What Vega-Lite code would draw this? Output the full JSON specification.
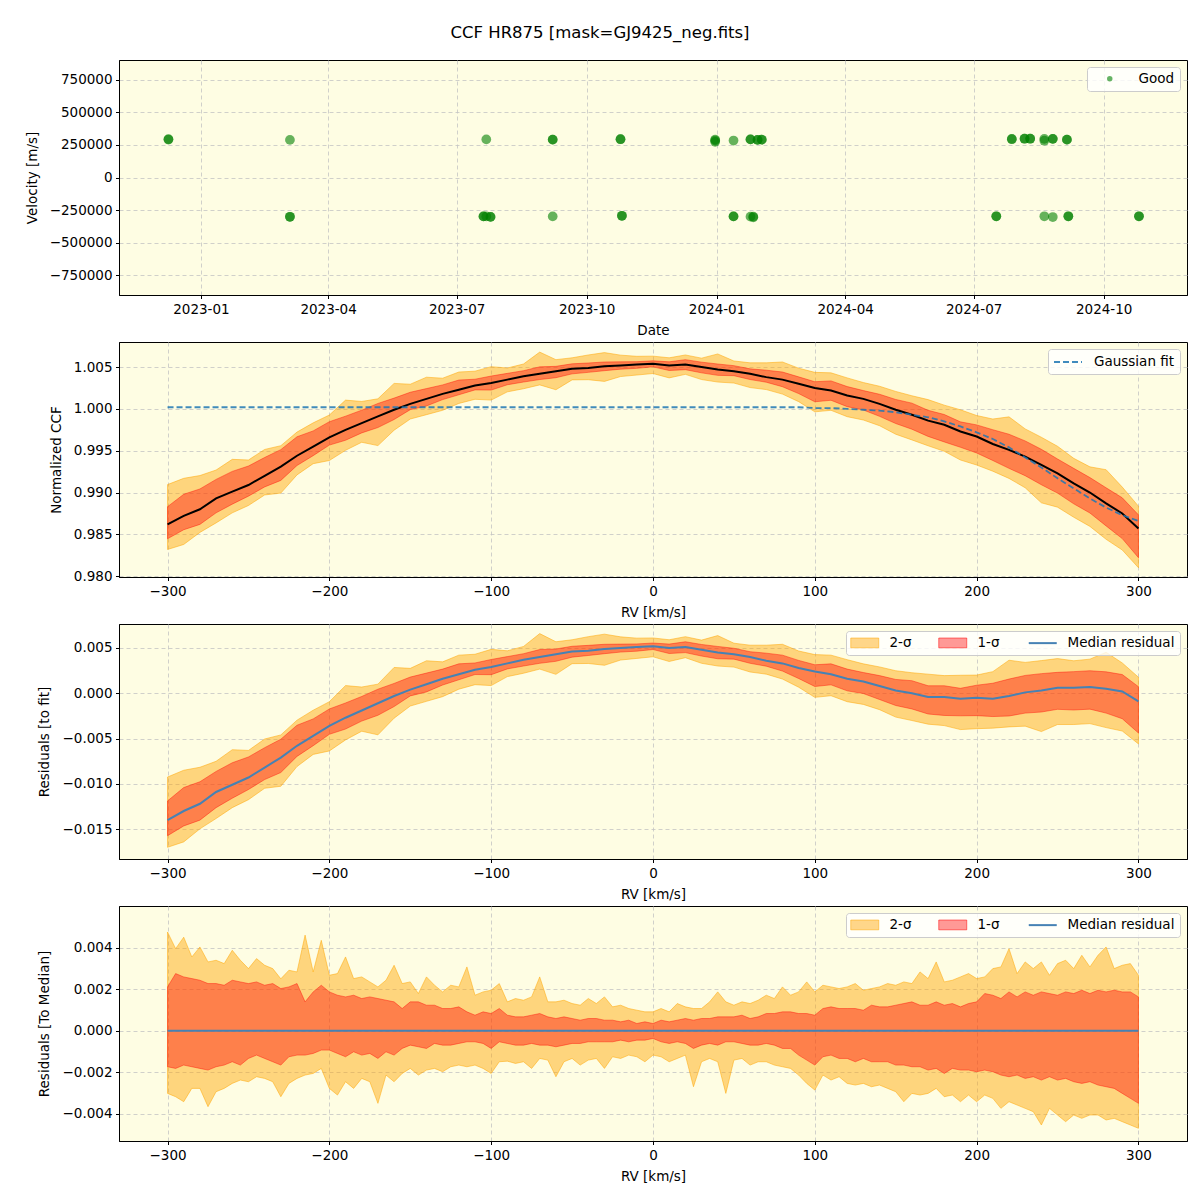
{
"$schema":"https://vega.github.io/schema/vega-lite/v6.json",
"background":"white",
"padding":{"left":24,"top":25,"right":12,"bottom":8},
"title":{"text":"CCF HR875 [mask=GJ9425_neg.fits]","anchor":"middle","fontSize":16.5,"fontWeight":"normal","font":"DejaVu Sans","color":"black","offset":18,"dx":-6},
"config":{
 "font":"DejaVu Sans",
 "view":{"stroke":"black","strokeWidth":1,"fill":"#fefde3"},
 "axis":{"labelFont":"DejaVu Sans","labelFontSize":13.5,"titleFont":"DejaVu Sans","titleFontSize":13.5,"titleFontWeight":"normal","labelColor":"black","titleColor":"black","domainColor":"black","tickColor":"black","tickSize":3.5,"labelPadding":3.5,"gridColor":"#c4c4c4","gridDash":[4,3],"gridWidth":0.8,"grid":true,"labelFlush":false,"labelOverlap":false},
 "legend":{"labelFont":"DejaVu Sans","labelFontSize":13.5,"labelColor":"black","fillColor":"rgba(255,255,255,0.8)","strokeColor":"#cccccc","cornerRadius":3,"padding":5,"offset":7,"orient":"top-right"}
},
"resolve":{"scale":{"color":"independent"},"legend":{"color":"independent"}},
"spacing":47,
"bounds":"flush",
"datasets":{
"pts":[
{"date":"2022-12-09","v":291000},{"date":"2022-12-09","v":293000},
{"date":"2023-03-05","v":288000},{"date":"2023-03-05","v":-301000},{"date":"2023-03-05","v":-301000},
{"date":"2023-07-22","v":292000},{"date":"2023-07-20","v":-298000},{"date":"2023-07-20","v":-298000},{"date":"2023-07-22","v":-298000},{"date":"2023-07-25","v":-302000},{"date":"2023-07-25","v":-302000},
{"date":"2023-09-07","v":290000},{"date":"2023-09-07","v":290000},{"date":"2023-09-07","v":-298000},
{"date":"2023-10-25","v":293000},{"date":"2023-10-25","v":293000},{"date":"2023-10-26","v":-293000},{"date":"2023-10-26","v":-293000},
{"date":"2023-12-31","v":290000},{"date":"2023-12-31","v":273000},{"date":"2023-12-31","v":283000},
{"date":"2024-01-13","v":283000},{"date":"2024-01-13","v":-298000},{"date":"2024-01-13","v":-298000},
{"date":"2024-01-25","v":292000},{"date":"2024-01-25","v":292000},{"date":"2024-01-25","v":-300000},{"date":"2024-01-27","v":-305000},{"date":"2024-01-27","v":-300000},
{"date":"2024-01-30","v":288000},{"date":"2024-01-30","v":288000},{"date":"2024-02-02","v":290000},{"date":"2024-02-02","v":290000},
{"date":"2024-07-17","v":-297000},{"date":"2024-07-17","v":-297000},
{"date":"2024-07-28","v":295000},{"date":"2024-07-28","v":293000},{"date":"2024-08-06","v":297000},{"date":"2024-08-06","v":297000},{"date":"2024-08-10","v":297000},{"date":"2024-08-10","v":297000},
{"date":"2024-08-20","v":296000},{"date":"2024-08-20","v":282000},{"date":"2024-08-20","v":-297000},
{"date":"2024-08-26","v":296000},{"date":"2024-08-26","v":296000},{"date":"2024-08-26","v":-303000},
{"date":"2024-09-05","v":290000},{"date":"2024-09-05","v":290000},{"date":"2024-09-06","v":-297000},{"date":"2024-09-06","v":-297000},
{"date":"2024-10-26","v":-297000},{"date":"2024-10-26","v":-297000}
],
"rv":[
{"rv":-300,"m":0.9862,"f":1.0002,"r":-0.014,"h2":0.99095,"h1":0.98831,"l1":0.98447,"l2":0.98319,"rh2":-0.00925,"rh1":-0.01189,"rl1":-0.01573,"rl2":-0.01701},
{"rv":-290,"m":0.9872,"f":1.0002,"r":-0.013,"h2":0.9917,"h1":0.98979,"l1":0.98555,"l2":0.98379,"rh2":-0.0085,"rh1":-0.01041,"rl1":-0.01465,"rl2":-0.01641},
{"rv":-280,"m":0.988,"f":1.0002,"r":-0.0122,"h2":0.99203,"h1":0.99043,"l1":0.98619,"l2":0.98523,"rh2":-0.00817,"rh1":-0.00977,"rl1":-0.01401,"rl2":-0.01497},
{"rv":-270,"m":0.9893,"f":1.0002,"r":-0.0109,"h2":0.99269,"h1":0.99157,"l1":0.98757,"l2":0.98637,"rh2":-0.00751,"rh1":-0.00863,"rl1":-0.01263,"rl2":-0.01383},
{"rv":-260,"m":0.9901,"f":1.0002,"r":-0.0101,"h2":0.99397,"h1":0.99253,"l1":0.98861,"l2":0.98757,"rh2":-0.00623,"rh1":-0.00767,"rl1":-0.01159,"rl2":-0.01263},
{"rv":-250,"m":0.9909,"f":1.0002,"r":-0.0093,"h2":0.99389,"h1":0.99317,"l1":0.98957,"l2":0.98845,"rh2":-0.00631,"rh1":-0.00703,"rl1":-0.01063,"rl2":-0.01175},
{"rv":-240,"m":0.992,"f":1.0002,"r":-0.0082,"h2":0.99515,"h1":0.99419,"l1":0.99067,"l2":0.98971,"rh2":-0.00505,"rh1":-0.00601,"rl1":-0.00953,"rl2":-0.01049},
{"rv":-230,"m":0.9931,"f":1.0002,"r":-0.0071,"h2":0.9956,"h1":0.99513,"l1":0.99145,"l2":0.98993,"rh2":-0.0046,"rh1":-0.00507,"rl1":-0.00875,"rl2":-0.01027},
{"rv":-220,"m":0.9944,"f":1.0002,"r":-0.0058,"h2":0.99723,"h1":0.99667,"l1":0.99323,"l2":0.99211,"rh2":-0.00297,"rh1":-0.00353,"rl1":-0.00697,"rl2":-0.00809},
{"rv":-210,"m":0.9955,"f":1.0002,"r":-0.0047,"h2":0.99833,"h1":0.99737,"l1":0.99441,"l2":0.99345,"rh2":-0.00187,"rh1":-0.00283,"rl1":-0.00579,"rl2":-0.00675},
{"rv":-200,"m":0.9966,"f":1.0002,"r":-0.0036,"h2":0.99927,"h1":0.99847,"l1":0.99567,"l2":0.99383,"rh2":-0.00093,"rh1":-0.00173,"rl1":-0.00453,"rl2":-0.00637},
{"rv":-190,"m":0.9975,"f":1.0002,"r":-0.0027,"h2":1.00105,"h1":0.99913,"l1":0.99625,"l2":0.99505,"rh2":0.00085,"rh1":-0.00107,"rl1":-0.00395,"rl2":-0.00515},
{"rv":-180,"m":0.9983,"f":1.0002,"r":-0.0019,"h2":1.00089,"h1":0.99985,"l1":0.99713,"l2":0.99601,"rh2":0.00069,"rh1":-0.00035,"rl1":-0.00307,"rl2":-0.00419},
{"rv":-170,"m":0.9991,"f":1.0002,"r":-0.0011,"h2":1.00121,"h1":1.00065,"l1":0.99777,"l2":0.99561,"rh2":0.00101,"rh1":0.00045,"rl1":-0.00243,"rl2":-0.00459},
{"rv":-160,"m":0.9999,"f":1.0002,"r":-0.0003,"h2":1.00305,"h1":1.00129,"l1":0.99873,"l2":0.99745,"rh2":0.00285,"rh1":0.00109,"rl1":-0.00147,"rl2":-0.00275},
{"rv":-150,"m":1.0006,"f":1.0002,"r":0.0004,"h2":1.00295,"h1":1.00199,"l1":0.99991,"l2":0.99879,"rh2":0.00275,"rh1":0.00179,"rl1":-0.00029,"rl2":-0.00141},
{"rv":-140,"m":1.0012,"f":1.0002,"r":0.001,"h2":1.00379,"h1":1.00243,"l1":1.00035,"l2":0.99931,"rh2":0.00359,"rh1":0.00223,"rl1":0.00015,"rl2":-0.00089},
{"rv":-130,"m":1.0018,"f":1.0002,"r":0.0016,"h2":1.00367,"h1":1.00287,"l1":1.00111,"l2":0.99983,"rh2":0.00347,"rh1":0.00267,"rl1":0.00091,"rl2":-0.00037},
{"rv":-120,"m":1.0023,"f":1.0002,"r":0.0021,"h2":1.00441,"h1":1.00345,"l1":1.00169,"l2":1.00065,"rh2":0.00421,"rh1":0.00325,"rl1":0.00149,"rl2":0.00045},
{"rv":-110,"m":1.0028,"f":1.0002,"r":0.0026,"h2":1.00451,"h1":1.00355,"l1":1.00227,"l2":1.00115,"rh2":0.00431,"rh1":0.00335,"rl1":0.00207,"rl2":0.00095},
{"rv":-100,"m":1.0031,"f":1.0002,"r":0.0029,"h2":1.00505,"h1":1.00393,"l1":1.00225,"l2":1.00105,"rh2":0.00485,"rh1":0.00373,"rl1":0.00205,"rl2":0.00085},
{"rv":-90,"m":1.0035,"f":1.0002,"r":0.0033,"h2":1.00489,"h1":1.00425,"l1":1.00289,"l2":1.00204,"rh2":0.00469,"rh1":0.00405,"rl1":0.00269,"rl2":0.00184},
{"rv":-80,"m":1.0039,"f":1.0002,"r":0.0037,"h2":1.00537,"h1":1.00457,"l1":1.00321,"l2":1.00241,"rh2":0.00517,"rh1":0.00437,"rl1":0.00301,"rl2":0.00221},
{"rv":-70,"m":1.0042,"f":1.0002,"r":0.004,"h2":1.00679,"h1":1.00503,"l1":1.00351,"l2":1.00287,"rh2":0.00659,"rh1":0.00483,"rl1":0.00331,"rl2":0.00267},
{"rv":-60,"m":1.0045,"f":1.0002,"r":0.0043,"h2":1.00589,"h1":1.00509,"l1":1.00373,"l2":1.00229,"rh2":0.00569,"rh1":0.00489,"rl1":0.00353,"rl2":0.00209},
{"rv":-50,"m":1.0048,"f":1.0002,"r":0.0046,"h2":1.00611,"h1":1.00539,"l1":1.00419,"l2":1.00347,"rh2":0.00591,"rh1":0.00519,"rl1":0.00399,"rl2":0.00327},
{"rv":-40,"m":1.0049,"f":1.0002,"r":0.0047,"h2":1.00645,"h1":1.00549,"l1":1.00437,"l2":1.00349,"rh2":0.00625,"rh1":0.00529,"rl1":0.00417,"rl2":0.00329},
{"rv":-30,"m":1.0051,"f":1.0002,"r":0.0049,"h2":1.00673,"h1":1.00561,"l1":1.00457,"l2":1.00329,"rh2":0.00653,"rh1":0.00541,"rl1":0.00437,"rl2":0.00309},
{"rv":-20,"m":1.0052,"f":1.0002,"r":0.005,"h2":1.00643,"h1":1.00563,"l1":1.00475,"l2":1.00387,"rh2":0.00623,"rh1":0.00543,"rl1":0.00455,"rl2":0.00367},
{"rv":-10,"m":1.0053,"f":1.0002,"r":0.0051,"h2":1.00629,"h1":1.00565,"l1":1.00485,"l2":1.00405,"rh2":0.00609,"rh1":0.00545,"rl1":0.00465,"rl2":0.00385},
{"rv":0,"m":1.0054,"f":1.0002,"r":0.0052,"h2":1.00631,"h1":1.00575,"l1":1.00503,"l2":1.00423,"rh2":0.00611,"rh1":0.00555,"rl1":0.00483,"rl2":0.00403},
{"rv":10,"m":1.0052,"f":1.0002,"r":0.005,"h2":1.00611,"h1":1.00563,"l1":1.00459,"l2":1.00371,"rh2":0.00591,"rh1":0.00543,"rl1":0.00439,"rl2":0.00351},
{"rv":20,"m":1.0053,"f":1.0002,"r":0.0051,"h2":1.00645,"h1":1.00589,"l1":1.00469,"l2":1.00413,"rh2":0.00625,"rh1":0.00569,"rl1":0.00449,"rl2":0.00393},
{"rv":30,"m":1.005,"f":1.0002,"r":0.0048,"h2":1.00607,"h1":1.00559,"l1":1.00431,"l2":1.00351,"rh2":0.00587,"rh1":0.00539,"rl1":0.00411,"rl2":0.00331},
{"rv":40,"m":1.0047,"f":1.0002,"r":0.0045,"h2":1.00657,"h1":1.00537,"l1":1.00401,"l2":1.00321,"rh2":0.00637,"rh1":0.00517,"rl1":0.00381,"rl2":0.00301},
{"rv":50,"m":1.0045,"f":1.0002,"r":0.0043,"h2":1.00573,"h1":1.00517,"l1":1.00397,"l2":1.00309,"rh2":0.00553,"rh1":0.00497,"rl1":0.00377,"rl2":0.00289},
{"rv":60,"m":1.0042,"f":1.0002,"r":0.004,"h2":1.00551,"h1":1.00479,"l1":1.00351,"l2":1.00255,"rh2":0.00531,"rh1":0.00459,"rl1":0.00331,"rl2":0.00235},
{"rv":70,"m":1.0038,"f":1.0002,"r":0.0036,"h2":1.00551,"h1":1.00463,"l1":1.00319,"l2":1.00231,"rh2":0.00531,"rh1":0.00443,"rl1":0.00299,"rl2":0.00211},
{"rv":80,"m":1.0035,"f":1.0002,"r":0.0033,"h2":1.00561,"h1":1.00441,"l1":1.00265,"l2":1.00177,"rh2":0.00541,"rh1":0.00421,"rl1":0.00245,"rl2":0.00157},
{"rv":90,"m":1.003,"f":1.0002,"r":0.0028,"h2":1.00487,"h1":1.00383,"l1":1.00183,"l2":1.00087,"rh2":0.00467,"rh1":0.00363,"rl1":0.00163,"rl2":0.00067},
{"rv":100,"m":1.0025,"f":1.0001,"r":0.0024,"h2":1.00437,"h1":1.00325,"l1":1.00085,"l2":0.99965,"rh2":0.00427,"rh1":0.00315,"rl1":0.00075,"rl2":-0.00045},
{"rv":110,"m":1.0022,"f":1.0001,"r":0.0021,"h2":1.00431,"h1":1.00335,"l1":1.00103,"l2":0.99983,"rh2":0.00421,"rh1":0.00325,"rl1":0.00093,"rl2":-0.00027},
{"rv":120,"m":1.0016,"f":1.0,"r":0.0016,"h2":1.00371,"h1":1.00267,"l1":1.00027,"l2":0.99907,"rh2":0.00371,"rh1":0.00267,"rl1":0.00027,"rl2":-0.00093},
{"rv":130,"m":1.0012,"f":0.9999,"r":0.0013,"h2":1.00315,"h1":1.00219,"l1":0.99987,"l2":0.99867,"rh2":0.00325,"rh1":0.00229,"rl1":-0.00003,"rl2":-0.00123},
{"rv":140,"m":1.0006,"f":0.9998,"r":0.0008,"h2":1.00271,"h1":1.00175,"l1":0.99911,"l2":0.99799,"rh2":0.00291,"rh1":0.00195,"rl1":-0.00069,"rl2":-0.00181},
{"rv":150,"m":0.9999,"f":0.9996,"r":0.0003,"h2":1.00209,"h1":1.00113,"l1":0.99825,"l2":0.99697,"rh2":0.00249,"rh1":0.00153,"rl1":-0.00135,"rl2":-0.00263},
{"rv":160,"m":0.9993,"f":0.9993,"r":0.0,"h2":1.00157,"h1":1.00069,"l1":0.99757,"l2":0.99629,"rh2":0.00227,"rh1":0.00139,"rl1":-0.00173,"rl2":-0.00301},
{"rv":170,"m":0.9986,"f":0.999,"r":-0.0004,"h2":1.00111,"h1":0.99983,"l1":0.99671,"l2":0.99559,"rh2":0.00211,"rh1":0.00083,"rl1":-0.00229,"rl2":-0.00341},
{"rv":180,"m":0.9981,"f":0.9985,"r":-0.0004,"h2":1.00045,"h1":0.99933,"l1":0.99605,"l2":0.99493,"rh2":0.00195,"rh1":0.00083,"rl1":-0.00245,"rl2":-0.00357},
{"rv":190,"m":0.9973,"f":0.9979,"r":-0.0006,"h2":0.99989,"h1":0.99845,"l1":0.99541,"l2":0.99389,"rh2":0.00199,"rh1":0.00055,"rl1":-0.00249,"rl2":-0.00401},
{"rv":200,"m":0.9967,"f":0.9972,"r":-0.0005,"h2":0.99921,"h1":0.99809,"l1":0.99473,"l2":0.99329,"rh2":0.00201,"rh1":0.00089,"rl1":-0.00247,"rl2":-0.00391},
{"rv":210,"m":0.9958,"f":0.9964,"r":-0.0006,"h2":0.99879,"h1":0.99751,"l1":0.99383,"l2":0.99255,"rh2":0.00239,"rh1":0.00111,"rl1":-0.00257,"rl2":-0.00385},
{"rv":220,"m":0.9951,"f":0.9954,"r":-0.0003,"h2":0.99905,"h1":0.99697,"l1":0.99289,"l2":0.99169,"rh2":0.00365,"rh1":0.00157,"rl1":-0.00251,"rl2":-0.00371},
{"rv":230,"m":0.9943,"f":0.9942,"r":0.0001,"h2":0.99761,"h1":0.99617,"l1":0.99201,"l2":0.99057,"rh2":0.00341,"rh1":0.00197,"rl1":-0.00219,"rl2":-0.00363},
{"rv":240,"m":0.9933,"f":0.993,"r":0.0003,"h2":0.99661,"h1":0.99517,"l1":0.99093,"l2":0.98877,"rh2":0.00361,"rh1":0.00217,"rl1":-0.00207,"rl2":-0.00423},
{"rv":250,"m":0.9923,"f":0.9917,"r":0.0006,"h2":0.99553,"h1":0.99401,"l1":0.98993,"l2":0.98825,"rh2":0.00383,"rh1":0.00231,"rl1":-0.00177,"rl2":-0.00345},
{"rv":260,"m":0.9911,"f":0.9905,"r":0.0006,"h2":0.99409,"h1":0.99289,"l1":0.98865,"l2":0.98705,"rh2":0.00359,"rh1":0.00239,"rl1":-0.00185,"rl2":-0.00345},
{"rv":270,"m":0.99,"f":0.9893,"r":0.0007,"h2":0.99307,"h1":0.99179,"l1":0.98755,"l2":0.98595,"rh2":0.00377,"rh1":0.00249,"rl1":-0.00175,"rl2":-0.00335},
{"rv":280,"m":0.9887,"f":0.9882,"r":0.0005,"h2":0.99273,"h1":0.99057,"l1":0.98601,"l2":0.98441,"rh2":0.00453,"rh1":0.00237,"rl1":-0.00219,"rl2":-0.00379},
{"rv":290,"m":0.9875,"f":0.9873,"r":0.0002,"h2":0.99065,"h1":0.98937,"l1":0.98449,"l2":0.98313,"rh2":0.00335,"rh1":0.00207,"rl1":-0.00281,"rl2":-0.00417},
{"rv":300,"m":0.9857,"f":0.9866,"r":-0.0009,"h2":0.98837,"h1":0.98733,"l1":0.98221,"l2":0.98101,"rh2":0.00177,"rh1":0.00073,"rl1":-0.00439,"rl2":-0.00559}
],
"p4":[
{"rv":-300,"h2":0.00475,"h1":0.00211,"l1":-0.00173,"l2":-0.00301},
{"rv":-295,"h2":0.00395,"h1":0.00275,"l1":-0.00181,"l2":-0.00317},
{"rv":-290,"h2":0.0045,"h1":0.00259,"l1":-0.00165,"l2":-0.00341},
{"rv":-285,"h2":0.00355,"h1":0.00251,"l1":-0.00173,"l2":-0.00277},
{"rv":-280,"h2":0.00403,"h1":0.00243,"l1":-0.00181,"l2":-0.00277},
{"rv":-275,"h2":0.00331,"h1":0.00227,"l1":-0.00189,"l2":-0.00365},
{"rv":-270,"h2":0.00339,"h1":0.00227,"l1":-0.00173,"l2":-0.00293},
{"rv":-265,"h2":0.00323,"h1":0.00219,"l1":-0.00165,"l2":-0.00277},
{"rv":-260,"h2":0.00387,"h1":0.00243,"l1":-0.00149,"l2":-0.00253},
{"rv":-255,"h2":0.00339,"h1":0.00235,"l1":-0.00165,"l2":-0.00237},
{"rv":-250,"h2":0.00299,"h1":0.00227,"l1":-0.00133,"l2":-0.00245},
{"rv":-245,"h2":0.00347,"h1":0.00235,"l1":-0.00117,"l2":-0.00221},
{"rv":-240,"h2":0.00315,"h1":0.00219,"l1":-0.00133,"l2":-0.00229},
{"rv":-235,"h2":0.00299,"h1":0.00227,"l1":-0.00149,"l2":-0.00245},
{"rv":-230,"h2":0.0025,"h1":0.00203,"l1":-0.00165,"l2":-0.00317},
{"rv":-225,"h2":0.00291,"h1":0.00211,"l1":-0.00125,"l2":-0.00253},
{"rv":-220,"h2":0.00283,"h1":0.00227,"l1":-0.00117,"l2":-0.00229},
{"rv":-215,"h2":0.0046,"h1":0.00139,"l1":-0.00117,"l2":-0.00213},
{"rv":-210,"h2":0.00283,"h1":0.00187,"l1":-0.00109,"l2":-0.00205},
{"rv":-205,"h2":0.00435,"h1":0.00219,"l1":-0.00093,"l2":-0.00181},
{"rv":-200,"h2":0.00267,"h1":0.00187,"l1":-0.00093,"l2":-0.00277},
{"rv":-195,"h2":0.00275,"h1":0.00171,"l1":-0.00109,"l2":-0.00309},
{"rv":-190,"h2":0.00355,"h1":0.00163,"l1":-0.00125,"l2":-0.00245},
{"rv":-185,"h2":0.00251,"h1":0.00171,"l1":-0.00101,"l2":-0.00277},
{"rv":-180,"h2":0.00259,"h1":0.00155,"l1":-0.00117,"l2":-0.00229},
{"rv":-175,"h2":0.00235,"h1":0.00163,"l1":-0.00109,"l2":-0.00245},
{"rv":-170,"h2":0.00211,"h1":0.00155,"l1":-0.00133,"l2":-0.00349},
{"rv":-165,"h2":0.00243,"h1":0.00147,"l1":-0.00101,"l2":-0.00213},
{"rv":-160,"h2":0.00315,"h1":0.00139,"l1":-0.00117,"l2":-0.00245},
{"rv":-155,"h2":0.00227,"h1":0.00107,"l1":-0.00085,"l2":-0.00205},
{"rv":-150,"h2":0.00235,"h1":0.00139,"l1":-0.00069,"l2":-0.00181},
{"rv":-145,"h2":0.00179,"h1":0.00139,"l1":-0.00077,"l2":-0.00213},
{"rv":-140,"h2":0.00259,"h1":0.00123,"l1":-0.00085,"l2":-0.00189},
{"rv":-135,"h2":0.00219,"h1":0.00123,"l1":-0.00061,"l2":-0.00181},
{"rv":-130,"h2":0.00187,"h1":0.00107,"l1":-0.00069,"l2":-0.00197},
{"rv":-125,"h2":0.00219,"h1":0.00107,"l1":-0.00069,"l2":-0.00173},
{"rv":-120,"h2":0.00211,"h1":0.00115,"l1":-0.00061,"l2":-0.00165},
{"rv":-115,"h2":0.00307,"h1":0.00091,"l1":-0.00053,"l2":-0.00173},
{"rv":-110,"h2":0.00171,"h1":0.00075,"l1":-0.00053,"l2":-0.00165},
{"rv":-105,"h2":0.00187,"h1":0.00091,"l1":-0.00061,"l2":-0.00181},
{"rv":-100,"h2":0.00195,"h1":0.00083,"l1":-0.00085,"l2":-0.00205},
{"rv":-95,"h2":0.00227,"h1":0.00107,"l1":-0.00053,"l2":-0.00149},
{"rv":-90,"h2":0.00139,"h1":0.00075,"l1":-0.00061,"l2":-0.00146},
{"rv":-85,"h2":0.00155,"h1":0.00067,"l1":-0.00069,"l2":-0.00157},
{"rv":-80,"h2":0.00147,"h1":0.00067,"l1":-0.00069,"l2":-0.00149},
{"rv":-75,"h2":0.00163,"h1":0.00075,"l1":-0.00061,"l2":-0.00181},
{"rv":-70,"h2":0.00259,"h1":0.00083,"l1":-0.00069,"l2":-0.00133},
{"rv":-65,"h2":0.00139,"h1":0.00067,"l1":-0.00069,"l2":-0.00141},
{"rv":-60,"h2":0.00139,"h1":0.00059,"l1":-0.00077,"l2":-0.00221},
{"rv":-55,"h2":0.00147,"h1":0.00067,"l1":-0.00069,"l2":-0.00149},
{"rv":-50,"h2":0.00131,"h1":0.00059,"l1":-0.00061,"l2":-0.00133},
{"rv":-45,"h2":0.00123,"h1":0.00051,"l1":-0.00061,"l2":-0.00165},
{"rv":-40,"h2":0.00155,"h1":0.00059,"l1":-0.00053,"l2":-0.00141},
{"rv":-35,"h2":0.00131,"h1":0.00059,"l1":-0.00053,"l2":-0.00133},
{"rv":-30,"h2":0.00163,"h1":0.00051,"l1":-0.00053,"l2":-0.00181},
{"rv":-25,"h2":0.00115,"h1":0.00051,"l1":-0.00053,"l2":-0.00125},
{"rv":-20,"h2":0.00123,"h1":0.00043,"l1":-0.00045,"l2":-0.00133},
{"rv":-15,"h2":0.00107,"h1":0.00051,"l1":-0.00053,"l2":-0.00117},
{"rv":-10,"h2":0.00099,"h1":0.00035,"l1":-0.00045,"l2":-0.00125},
{"rv":-5,"h2":0.00091,"h1":0.00043,"l1":-0.00045,"l2":-0.00149},
{"rv":0,"h2":0.00091,"h1":0.00035,"l1":-0.00037,"l2":-0.00117},
{"rv":5,"h2":0.00107,"h1":0.00051,"l1":-0.00053,"l2":-0.00125},
{"rv":10,"h2":0.00091,"h1":0.00043,"l1":-0.00061,"l2":-0.00149},
{"rv":15,"h2":0.00131,"h1":0.00051,"l1":-0.00053,"l2":-0.00133},
{"rv":20,"h2":0.00115,"h1":0.00059,"l1":-0.00061,"l2":-0.00117},
{"rv":25,"h2":0.00107,"h1":0.00051,"l1":-0.00085,"l2":-0.00269},
{"rv":30,"h2":0.00107,"h1":0.00059,"l1":-0.00069,"l2":-0.00149},
{"rv":35,"h2":0.00139,"h1":0.00059,"l1":-0.00061,"l2":-0.00133},
{"rv":40,"h2":0.00187,"h1":0.00067,"l1":-0.00069,"l2":-0.00149},
{"rv":45,"h2":0.00139,"h1":0.00067,"l1":-0.00053,"l2":-0.00301},
{"rv":50,"h2":0.00123,"h1":0.00067,"l1":-0.00053,"l2":-0.00141},
{"rv":55,"h2":0.00139,"h1":0.00075,"l1":-0.00061,"l2":-0.00133},
{"rv":60,"h2":0.00131,"h1":0.00059,"l1":-0.00069,"l2":-0.00165},
{"rv":65,"h2":0.00147,"h1":0.00067,"l1":-0.00069,"l2":-0.00149},
{"rv":70,"h2":0.00171,"h1":0.00083,"l1":-0.00061,"l2":-0.00149},
{"rv":75,"h2":0.00155,"h1":0.00083,"l1":-0.00069,"l2":-0.00165},
{"rv":80,"h2":0.00211,"h1":0.00091,"l1":-0.00085,"l2":-0.00173},
{"rv":85,"h2":0.00171,"h1":0.00091,"l1":-0.00085,"l2":-0.00181},
{"rv":90,"h2":0.00187,"h1":0.00083,"l1":-0.00117,"l2":-0.00213},
{"rv":95,"h2":0.00235,"h1":0.00083,"l1":-0.00141,"l2":-0.00253},
{"rv":100,"h2":0.00187,"h1":0.00075,"l1":-0.00165,"l2":-0.00285},
{"rv":105,"h2":0.00219,"h1":0.00107,"l1":-0.00125,"l2":-0.00213},
{"rv":110,"h2":0.00211,"h1":0.00115,"l1":-0.00117,"l2":-0.00237},
{"rv":115,"h2":0.00203,"h1":0.00107,"l1":-0.00133,"l2":-0.00221},
{"rv":120,"h2":0.00211,"h1":0.00107,"l1":-0.00133,"l2":-0.00253},
{"rv":125,"h2":0.00227,"h1":0.00107,"l1":-0.00149,"l2":-0.00261},
{"rv":130,"h2":0.00195,"h1":0.00099,"l1":-0.00133,"l2":-0.00253},
{"rv":135,"h2":0.00203,"h1":0.00123,"l1":-0.00149,"l2":-0.00269},
{"rv":140,"h2":0.00211,"h1":0.00115,"l1":-0.00149,"l2":-0.00261},
{"rv":145,"h2":0.00227,"h1":0.00115,"l1":-0.00149,"l2":-0.00277},
{"rv":150,"h2":0.00219,"h1":0.00123,"l1":-0.00165,"l2":-0.00293},
{"rv":155,"h2":0.00235,"h1":0.00131,"l1":-0.00165,"l2":-0.00341},
{"rv":160,"h2":0.00227,"h1":0.00139,"l1":-0.00173,"l2":-0.00301},
{"rv":165,"h2":0.00283,"h1":0.00123,"l1":-0.00173,"l2":-0.00309},
{"rv":170,"h2":0.00251,"h1":0.00123,"l1":-0.00189,"l2":-0.00301},
{"rv":175,"h2":0.00331,"h1":0.00139,"l1":-0.00181,"l2":-0.00277},
{"rv":180,"h2":0.00235,"h1":0.00123,"l1":-0.00205,"l2":-0.00317},
{"rv":185,"h2":0.00243,"h1":0.00131,"l1":-0.00181,"l2":-0.00309},
{"rv":190,"h2":0.00259,"h1":0.00115,"l1":-0.00189,"l2":-0.00341},
{"rv":195,"h2":0.00275,"h1":0.00131,"l1":-0.00189,"l2":-0.00309},
{"rv":200,"h2":0.00251,"h1":0.00139,"l1":-0.00197,"l2":-0.00341},
{"rv":205,"h2":0.00259,"h1":0.00179,"l1":-0.00189,"l2":-0.00309},
{"rv":210,"h2":0.00299,"h1":0.00171,"l1":-0.00197,"l2":-0.00325},
{"rv":215,"h2":0.00307,"h1":0.00155,"l1":-0.00213,"l2":-0.00373},
{"rv":220,"h2":0.00395,"h1":0.00187,"l1":-0.00221,"l2":-0.00341},
{"rv":225,"h2":0.00275,"h1":0.00163,"l1":-0.00213,"l2":-0.00357},
{"rv":230,"h2":0.00331,"h1":0.00187,"l1":-0.00229,"l2":-0.00373},
{"rv":235,"h2":0.00299,"h1":0.00171,"l1":-0.00221,"l2":-0.00389},
{"rv":240,"h2":0.00331,"h1":0.00187,"l1":-0.00237,"l2":-0.00453},
{"rv":245,"h2":0.00267,"h1":0.00179,"l1":-0.00221,"l2":-0.00373},
{"rv":250,"h2":0.00323,"h1":0.00171,"l1":-0.00237,"l2":-0.00405},
{"rv":255,"h2":0.00339,"h1":0.00187,"l1":-0.00229,"l2":-0.00437},
{"rv":260,"h2":0.00299,"h1":0.00179,"l1":-0.00245,"l2":-0.00405},
{"rv":265,"h2":0.00363,"h1":0.00195,"l1":-0.00253,"l2":-0.00421},
{"rv":270,"h2":0.00307,"h1":0.00179,"l1":-0.00245,"l2":-0.00405},
{"rv":275,"h2":0.00363,"h1":0.00195,"l1":-0.00261,"l2":-0.00405},
{"rv":280,"h2":0.00403,"h1":0.00187,"l1":-0.00269,"l2":-0.00429},
{"rv":285,"h2":0.00299,"h1":0.00195,"l1":-0.00277,"l2":-0.00421},
{"rv":290,"h2":0.00315,"h1":0.00187,"l1":-0.00301,"l2":-0.00437},
{"rv":295,"h2":0.00323,"h1":0.00187,"l1":-0.00325,"l2":-0.00453},
{"rv":300,"h2":0.00267,"h1":0.00163,"l1":-0.00349,"l2":-0.00469}
]
},
"vconcat":[
{
 "width":1068,"height":235,
 "data":{"name":"pts"},
 "mark":{"type":"circle","size":95,"opacity":0.6},
 "encoding":{
  "x":{"field":"date","type":"temporal","scale":{"type":"utc","domain":[{"year":2022,"month":11,"date":4,"utc":true},{"year":2024,"month":11,"date":29,"utc":true}]},
       "axis":{"title":"Date","format":"%Y-%m","titleY":35,"titleBaseline":"middle","values":[{"year":2023,"month":1,"date":1,"utc":true},{"year":2023,"month":4,"date":1,"utc":true},{"year":2023,"month":7,"date":1,"utc":true},{"year":2023,"month":10,"date":1,"utc":true},{"year":2024,"month":1,"date":1,"utc":true},{"year":2024,"month":4,"date":1,"utc":true},{"year":2024,"month":7,"date":1,"utc":true},{"year":2024,"month":10,"date":1,"utc":true}]}},
  "y":{"field":"v","type":"quantitative","scale":{"domain":[-900000,900000],"nice":false},
       "axis":{"title":"Velocity [m/s]","format":"d","titleX":-87,"titleBaseline":"middle","values":[-750000,-500000,-250000,0,250000,500000,750000]}},
  "color":{"datum":"Good","scale":{"domain":["Good"],"range":["green"]},
       "legend":{"title":null,"symbolType":"circle","symbolSize":30,"symbolOpacity":0.6,"symbolOffset":11,"labelOffset":22}}
 }
},
{
 "width":1068,"height":235,
 "data":{"name":"rv"},
 "encoding":{"x":{"field":"rv","type":"quantitative","scale":{"domain":[-330,330],"nice":false},
   "axis":{"title":"RV [km/s]","format":"d","titleY":35,"titleBaseline":"middle","values":[-300,-200,-100,0,100,200,300]}}},
 "layer":[
  {"mark":{"type":"area","fill":"#ffa500","fillOpacity":0.45,"stroke":"#ffa500","strokeOpacity":0.5,"strokeWidth":1},
   "encoding":{"y":{"field":"h2","type":"quantitative","scale":{"domain":[0.9799,1.008],"nice":false,"zero":false},
      "axis":{"title":"Normalized CCF","format":".3f","titleX":-63,"titleBaseline":"middle","values":[0.98,0.985,0.99,0.995,1.0,1.005]}},"y2":{"field":"l2"}}},
  {"mark":{"type":"area","fill":"#ff0000","fillOpacity":0.4,"stroke":"#ff0000","strokeOpacity":0.4,"strokeWidth":1},
   "encoding":{"y":{"field":"h1","type":"quantitative"},"y2":{"field":"l1"}}},
  {"mark":{"type":"line","color":"black","strokeWidth":2},
   "encoding":{"y":{"field":"m","type":"quantitative"}}},
  {"mark":{"type":"line","strokeWidth":1.8,"strokeDash":[6,3],"opacity":0.85},
   "encoding":{"y":{"field":"f","type":"quantitative"},
     "color":{"datum":"Gaussian fit","scale":{"domain":["Gaussian fit"],"range":["#1f77b4"]},
       "legend":{"title":null,"symbolType":"M-2,0H2","symbolSize":196,"symbolDash":[6,3],"symbolStrokeWidth":1.8,"symbolOffset":7,"labelOffset":18}}}}
 ]
},
{
 "width":1068,"height":235,
 "data":{"name":"rv"},
 "encoding":{"x":{"field":"rv","type":"quantitative","scale":{"domain":[-330,330],"nice":false},
   "axis":{"title":"RV [km/s]","format":"d","titleY":35,"titleBaseline":"middle","values":[-300,-200,-100,0,100,200,300]}}},
 "layer":[
  {"mark":{"type":"area","fillOpacity":0.45,"stroke":"#ffa500","strokeOpacity":0.5,"strokeWidth":1},
   "encoding":{"y":{"field":"rh2","type":"quantitative","scale":{"domain":[-0.0183,0.00765],"nice":false,"zero":false},
      "axis":{"title":"Residuals [to fit]","format":".3f","titleX":-75,"titleBaseline":"middle","values":[-0.015,-0.01,-0.005,0,0.005]}},"y2":{"field":"rl2"},
      "color":{"datum":"2-σ","type":"nominal","scale":{"domain":["2-σ","1-σ","Median residual"],"range":["#ffa500","#ff0000","#4682b4"]},
       "legend":{"title":null,"direction":"horizontal","symbolType":"M-2,-0.7H2V0.7H-2Z","symbolSize":196,"symbolOffset":7,"labelOffset":18,"columnPadding":24,
        "encode":{"symbols":{"update":{
          "shape":{"signal":"datum.label === 'Median residual' ? 'M-2,0H2' : 'M-2,-0.7H2V0.7H-2Z'"},
          "fill":{"signal":"datum.label === '2-σ' ? '#ffa500' : (datum.label === '1-σ' ? '#ff0000' : 'transparent')"},
          "fillOpacity":{"signal":"datum.label === '2-σ' ? 0.45 : 0.4"},
          "opacity":{"value":1},
          "stroke":{"signal":"datum.label === 'Median residual' ? '#4682b4' : (datum.label === '2-σ' ? '#ffa500' : '#ff0000')"},
          "strokeOpacity":{"signal":"datum.label === 'Median residual' ? 1 : 0.5"},
          "strokeWidth":{"signal":"datum.label === 'Median residual' ? 2 : 1"}}}}}}}},
  {"mark":{"type":"area","fillOpacity":0.4,"stroke":"#ff0000","strokeOpacity":0.4,"strokeWidth":1},
   "encoding":{"y":{"field":"rh1","type":"quantitative"},"y2":{"field":"rl1"},"color":{"datum":"1-σ","type":"nominal",
       "legend":{"title":null,"direction":"horizontal","symbolType":"M-2,-0.7H2V0.7H-2Z","symbolSize":196,"symbolOffset":7,"labelOffset":18,"columnPadding":24,
        "encode":{"symbols":{"update":{
          "shape":{"signal":"datum.label === 'Median residual' ? 'M-2,0H2' : 'M-2,-0.7H2V0.7H-2Z'"},
          "fill":{"signal":"datum.label === '2-σ' ? '#ffa500' : (datum.label === '1-σ' ? '#ff0000' : 'transparent')"},
          "fillOpacity":{"signal":"datum.label === '2-σ' ? 0.45 : 0.4"},
          "opacity":{"value":1},
          "stroke":{"signal":"datum.label === 'Median residual' ? '#4682b4' : (datum.label === '2-σ' ? '#ffa500' : '#ff0000')"},
          "strokeOpacity":{"signal":"datum.label === 'Median residual' ? 1 : 0.5"},
          "strokeWidth":{"signal":"datum.label === 'Median residual' ? 2 : 1"}}}}}}}},
  {"mark":{"type":"line","strokeWidth":2},
   "encoding":{"y":{"field":"r","type":"quantitative"},"color":{"datum":"Median residual","type":"nominal",
       "legend":{"title":null,"direction":"horizontal","symbolType":"M-2,-0.7H2V0.7H-2Z","symbolSize":196,"symbolOffset":7,"labelOffset":18,"columnPadding":24,
        "encode":{"symbols":{"update":{
          "shape":{"signal":"datum.label === 'Median residual' ? 'M-2,0H2' : 'M-2,-0.7H2V0.7H-2Z'"},
          "fill":{"signal":"datum.label === '2-σ' ? '#ffa500' : (datum.label === '1-σ' ? '#ff0000' : 'transparent')"},
          "fillOpacity":{"signal":"datum.label === '2-σ' ? 0.45 : 0.4"},
          "opacity":{"value":1},
          "stroke":{"signal":"datum.label === 'Median residual' ? '#4682b4' : (datum.label === '2-σ' ? '#ffa500' : '#ff0000')"},
          "strokeOpacity":{"signal":"datum.label === 'Median residual' ? 1 : 0.5"},
          "strokeWidth":{"signal":"datum.label === 'Median residual' ? 2 : 1"}}}}}}}}
 ]
},
{
 "width":1068,"height":235,
 "data":{"name":"p4"},
 "encoding":{"x":{"field":"rv","type":"quantitative","scale":{"domain":[-330,330],"nice":false},
   "axis":{"title":"RV [km/s]","format":"d","titleY":35,"titleBaseline":"middle","values":[-300,-200,-100,0,100,200,300]}}},
 "layer":[
  {"mark":{"type":"area","fillOpacity":0.45,"stroke":"#ffa500","strokeOpacity":0.5,"strokeWidth":1},
   "encoding":{"y":{"field":"h2","type":"quantitative","scale":{"domain":[-0.0053,0.006],"nice":false,"zero":false},
      "axis":{"title":"Residuals [To Median]","format":".3f","titleX":-75,"titleBaseline":"middle","values":[-0.004,-0.002,0,0.002,0.004]}},"y2":{"field":"l2"},
      "color":{"datum":"2-σ","type":"nominal","scale":{"domain":["2-σ","1-σ","Median residual"],"range":["#ffa500","#ff0000","#4682b4"]},
       "legend":{"title":null,"direction":"horizontal","symbolType":"M-2,-0.7H2V0.7H-2Z","symbolSize":196,"symbolOffset":7,"labelOffset":18,"columnPadding":24,
        "encode":{"symbols":{"update":{
          "shape":{"signal":"datum.label === 'Median residual' ? 'M-2,0H2' : 'M-2,-0.7H2V0.7H-2Z'"},
          "fill":{"signal":"datum.label === '2-σ' ? '#ffa500' : (datum.label === '1-σ' ? '#ff0000' : 'transparent')"},
          "fillOpacity":{"signal":"datum.label === '2-σ' ? 0.45 : 0.4"},
          "opacity":{"value":1},
          "stroke":{"signal":"datum.label === 'Median residual' ? '#4682b4' : (datum.label === '2-σ' ? '#ffa500' : '#ff0000')"},
          "strokeOpacity":{"signal":"datum.label === 'Median residual' ? 1 : 0.5"},
          "strokeWidth":{"signal":"datum.label === 'Median residual' ? 2 : 1"}}}}}}}},
  {"mark":{"type":"area","fillOpacity":0.4,"stroke":"#ff0000","strokeOpacity":0.4,"strokeWidth":1},
   "encoding":{"y":{"field":"h1","type":"quantitative"},"y2":{"field":"l1"},"color":{"datum":"1-σ","type":"nominal",
       "legend":{"title":null,"direction":"horizontal","symbolType":"M-2,-0.7H2V0.7H-2Z","symbolSize":196,"symbolOffset":7,"labelOffset":18,"columnPadding":24,
        "encode":{"symbols":{"update":{
          "shape":{"signal":"datum.label === 'Median residual' ? 'M-2,0H2' : 'M-2,-0.7H2V0.7H-2Z'"},
          "fill":{"signal":"datum.label === '2-σ' ? '#ffa500' : (datum.label === '1-σ' ? '#ff0000' : 'transparent')"},
          "fillOpacity":{"signal":"datum.label === '2-σ' ? 0.45 : 0.4"},
          "opacity":{"value":1},
          "stroke":{"signal":"datum.label === 'Median residual' ? '#4682b4' : (datum.label === '2-σ' ? '#ffa500' : '#ff0000')"},
          "strokeOpacity":{"signal":"datum.label === 'Median residual' ? 1 : 0.5"},
          "strokeWidth":{"signal":"datum.label === 'Median residual' ? 2 : 1"}}}}}}}},
  {"mark":{"type":"line","strokeWidth":2},
   "encoding":{"y":{"datum":0,"type":"quantitative"},"color":{"datum":"Median residual","type":"nominal",
       "legend":{"title":null,"direction":"horizontal","symbolType":"M-2,-0.7H2V0.7H-2Z","symbolSize":196,"symbolOffset":7,"labelOffset":18,"columnPadding":24,
        "encode":{"symbols":{"update":{
          "shape":{"signal":"datum.label === 'Median residual' ? 'M-2,0H2' : 'M-2,-0.7H2V0.7H-2Z'"},
          "fill":{"signal":"datum.label === '2-σ' ? '#ffa500' : (datum.label === '1-σ' ? '#ff0000' : 'transparent')"},
          "fillOpacity":{"signal":"datum.label === '2-σ' ? 0.45 : 0.4"},
          "opacity":{"value":1},
          "stroke":{"signal":"datum.label === 'Median residual' ? '#4682b4' : (datum.label === '2-σ' ? '#ffa500' : '#ff0000')"},
          "strokeOpacity":{"signal":"datum.label === 'Median residual' ? 1 : 0.5"},
          "strokeWidth":{"signal":"datum.label === 'Median residual' ? 2 : 1"}}}}}}}}
 ]
}
]
}
